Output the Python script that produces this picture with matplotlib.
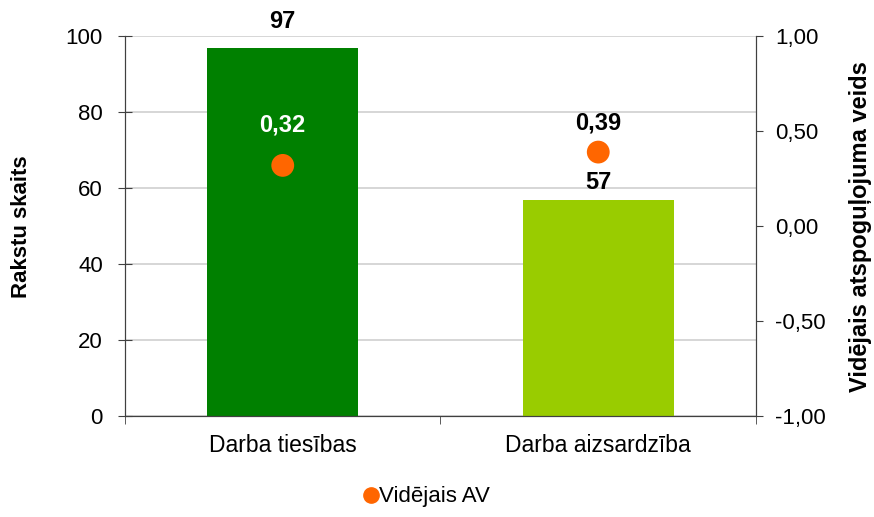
import numpy as np
import matplotlib.pyplot as plt
from matplotlib.lines import Line2D

plt.rcParams['font.family'] = ['Liberation Sans', 'DejaVu Sans']

# Data
categories = ['Darba tiesības', 'Darba aizsardzība']
article_counts = [97, 57]
avg_av = [0.32, 0.39]
bar_colors = ['#008000', '#99CC00']
av_label_colors = ['white', 'black']
# label offsets above the mark (points)
count_offsets = [19, 12]
av_offsets = [29, 21]

fig = plt.figure(figsize=(8.74, 5.17), dpi=100)
ax1 = fig.add_axes([0.143, 0.195, 0.722, 0.735])
ax2 = ax1.twinx()

x = np.arange(len(categories))
ax1.bar(x, article_counts, width=0.48, color=bar_colors, zorder=2)
for xi, v, off in zip(x, article_counts, count_offsets):
    ax1.annotate(str(v), (xi, v), xytext=(0, off), textcoords='offset points',
                 ha='center', va='center', fontsize=17, fontweight='bold')

ax1.set_xlim(-0.5, len(categories) - 0.5)
ax1.set_ylim(0, 100)
ax1.set_yticks(range(0, 101, 20))
ax1.yaxis.grid(True, color='#d0d0d0', linewidth=1.2, zorder=0)
ax1.set_axisbelow(True)
ax1.set_xticks(x)
ax1.set_xticklabels(categories, fontsize=16.5)
ax1.set_xticks([-0.5, 0.5, 1.5], minor=True)
ax1.tick_params(axis='x', which='major', length=0, pad=13)
ax1.tick_params(axis='x', which='minor', length=6, direction='out', color='#404040')
ax1.tick_params(axis='y', labelsize=16, length=10, direction='inout', color='#404040', pad=11)
ax1.set_ylabel('Rakstu skaits', fontsize=16, fontweight='bold')
ax1.yaxis.set_label_coords(-0.148, 0.5)

ax2.scatter(x, avg_av, s=270, color='#FF6600', zorder=3, edgecolors='none')
for xi, v, c, off in zip(x, avg_av, av_label_colors, av_offsets):
    ax2.annotate(f'{v:.2f}'.replace('.', ','), (xi, v), xytext=(0, off),
                 textcoords='offset points', ha='center', va='center',
                 fontsize=17, fontweight='bold', color=c)
ax2.set_ylim(-1, 1)
right_ticks = np.arange(-1, 1.01, 0.5)
ax2.set_yticks(right_ticks)
ax2.set_yticklabels([f'{t:.2f}'.replace('.', ',') for t in right_ticks])
ax2.tick_params(axis='y', labelsize=16, length=5, direction='out', color='#404040', pad=9)
ax2.set_ylabel('Vidējais atspoguļojuma veids', fontsize=17, fontweight='bold')
ax2.yaxis.set_label_coords(1.148, 0.5)

for ax in (ax1, ax2):
    ax.spines['top'].set_visible(False)
    ax.spines['left'].set_color('#404040')
    ax.spines['right'].set_color('#404040')
    ax.spines['bottom'].set_color('#404040')

handle = Line2D([], [], marker='o', linestyle='none', color='#FF6600', markersize=11)
fig.legend([handle], ['Vidējais AV'], loc='center', bbox_to_anchor=(0.488, 0.039),
           frameon=False, fontsize=16, handletextpad=0.05, handlelength=0.7)

fig.savefig('out.png', dpi=100)
